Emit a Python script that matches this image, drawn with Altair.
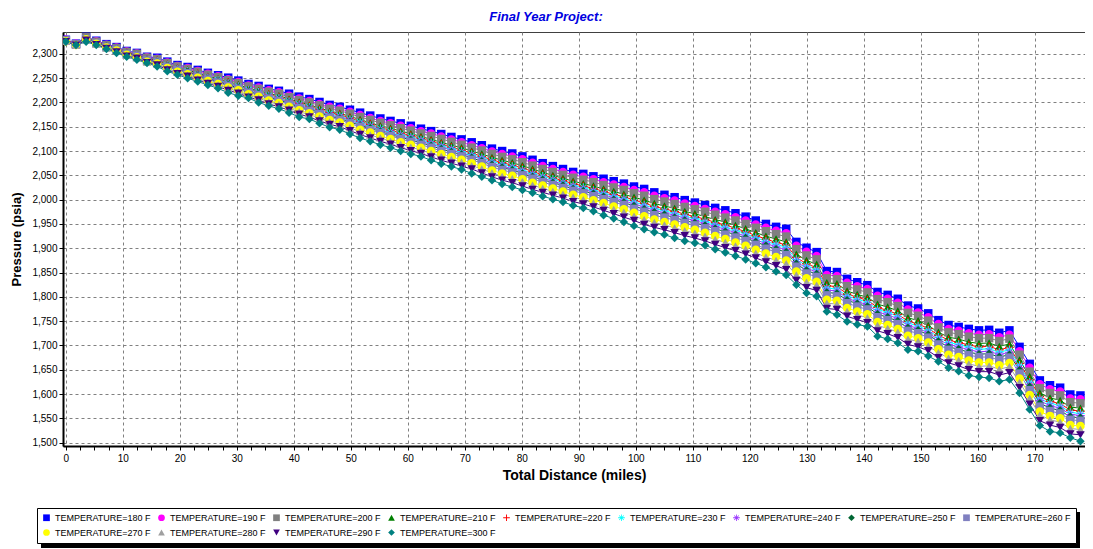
import altair as alt
import pandas as pd

distance = [0, 1.78, 3.56, 5.34, 7.12, 8.9, 10.68, 12.46, 14.24, 16.02,
            17.8, 19.58, 21.36, 23.14, 24.92, 26.7, 28.48, 30.26, 32.04, 33.82,
            35.6, 37.38, 39.16, 40.94, 42.72, 44.5, 46.28, 48.06, 49.84, 51.62,
            53.4, 55.18, 56.96, 58.74, 60.52, 62.3, 64.08, 65.86, 67.64, 69.42,
            71.2, 72.98, 74.76, 76.54, 78.32, 80.1, 81.88, 83.66, 85.44, 87.22,
            89.0, 90.78, 92.56, 94.34, 96.12, 97.9, 99.68, 101.46, 103.24, 105.02,
            106.8, 108.58, 110.36, 112.14, 113.92, 115.7, 117.48, 119.26, 121.04, 122.82,
            124.6, 126.38, 128.16, 129.94, 131.72, 133.5, 135.28, 137.06, 138.84, 140.62,
            142.4, 144.18, 145.96, 147.74, 149.52, 151.3, 153.08, 154.86, 156.64, 158.42,
            160.2, 161.98, 163.76, 165.54, 167.32, 169.1, 170.88, 172.66, 174.44, 176.22,
            178.0]

p180 = [2329, 2321, 2335, 2327, 2320, 2314, 2306, 2302, 2294, 2292,
        2284, 2277, 2273, 2267, 2261, 2256, 2251, 2245, 2238, 2234,
        2228, 2224, 2218, 2212, 2207, 2201, 2195, 2191, 2185, 2179,
        2173, 2167, 2162, 2157, 2152, 2146, 2141, 2135, 2129, 2124,
        2118, 2112, 2105, 2100, 2095, 2089, 2082, 2075, 2069, 2063,
        2057, 2053, 2048, 2043, 2038, 2033, 2027, 2022, 2015, 2010,
        2005, 1999, 1994, 1989, 1983, 1978, 1972, 1965, 1957, 1950,
        1944, 1940, 1913, 1901, 1892, 1853, 1851, 1837, 1830, 1824,
        1810, 1804, 1796, 1782, 1776, 1766, 1752, 1742, 1738, 1734,
        1731, 1732, 1726, 1731, 1697, 1662, 1628, 1618, 1613, 1599,
        1597]
p190 = [2329, 2321, 2334, 2326, 2319, 2313, 2305, 2301, 2293, 2290,
        2282, 2275, 2271, 2265, 2259, 2254, 2248, 2242, 2235, 2231,
        2225, 2221, 2214, 2208, 2203, 2197, 2191, 2187, 2181, 2174,
        2168, 2162, 2157, 2152, 2147, 2141, 2136, 2130, 2124, 2118,
        2112, 2106, 2099, 2094, 2089, 2083, 2076, 2069, 2063, 2057,
        2051, 2047, 2042, 2036, 2031, 2026, 2020, 2015, 2008, 2003,
        1998, 1992, 1987, 1981, 1975, 1970, 1964, 1957, 1949, 1942,
        1936, 1931, 1905, 1893, 1884, 1845, 1843, 1829, 1822, 1816,
        1802, 1796, 1788, 1774, 1768, 1758, 1744, 1734, 1730, 1725,
        1722, 1723, 1717, 1722, 1688, 1654, 1620, 1610, 1605, 1591,
        1589]
p200 = [2328, 2320, 2334, 2325, 2318, 2312, 2304, 2300, 2292, 2289,
        2281, 2274, 2269, 2263, 2257, 2252, 2246, 2240, 2233, 2228,
        2222, 2218, 2211, 2205, 2200, 2194, 2187, 2183, 2177, 2170,
        2164, 2158, 2153, 2147, 2142, 2136, 2131, 2125, 2119, 2113,
        2107, 2101, 2094, 2088, 2083, 2077, 2070, 2063, 2057, 2051,
        2045, 2041, 2036, 2030, 2025, 2020, 2013, 2008, 2001, 1996,
        1991, 1985, 1980, 1975, 1969, 1963, 1957, 1950, 1942, 1935,
        1929, 1924, 1898, 1885, 1877, 1838, 1836, 1822, 1815, 1809,
        1795, 1789, 1781, 1767, 1761, 1751, 1737, 1727, 1723, 1718,
        1715, 1715, 1709, 1714, 1681, 1646, 1612, 1602, 1597, 1583,
        1581]
p210 = [2328, 2320, 2333, 2324, 2317, 2311, 2303, 2298, 2290, 2287,
        2279, 2271, 2267, 2260, 2254, 2249, 2243, 2237, 2229, 2225,
        2218, 2214, 2207, 2201, 2195, 2189, 2182, 2178, 2171, 2165,
        2158, 2152, 2147, 2141, 2136, 2130, 2124, 2118, 2112, 2107,
        2100, 2094, 2087, 2081, 2076, 2070, 2063, 2056, 2050, 2044,
        2038, 2033, 2028, 2022, 2017, 2011, 2005, 1999, 1992, 1987,
        1982, 1976, 1971, 1965, 1959, 1954, 1947, 1940, 1932, 1925,
        1919, 1913, 1888, 1875, 1867, 1829, 1827, 1812, 1805, 1799,
        1785, 1779, 1771, 1757, 1751, 1741, 1727, 1717, 1713, 1707,
        1704, 1705, 1698, 1703, 1670, 1636, 1602, 1592, 1587, 1573,
        1571]
p220 = [2328, 2320, 2332, 2324, 2316, 2310, 2302, 2297, 2289, 2286,
        2277, 2270, 2265, 2259, 2252, 2247, 2241, 2234, 2227, 2222,
        2216, 2211, 2204, 2198, 2192, 2186, 2179, 2175, 2168, 2161,
        2155, 2148, 2143, 2137, 2132, 2126, 2120, 2114, 2108, 2102,
        2096, 2089, 2082, 2076, 2071, 2065, 2058, 2051, 2045, 2039,
        2033, 2028, 2023, 2017, 2011, 2006, 1999, 1993, 1986, 1981,
        1976, 1970, 1965, 1960, 1953, 1948, 1941, 1934, 1926, 1919,
        1912, 1907, 1881, 1868, 1860, 1823, 1821, 1806, 1799, 1793,
        1778, 1772, 1764, 1750, 1744, 1735, 1721, 1711, 1706, 1701,
        1697, 1698, 1691, 1696, 1663, 1629, 1595, 1585, 1580, 1567,
        1565]
p230 = [2327, 2319, 2332, 2323, 2316, 2310, 2301, 2297, 2288, 2285,
        2276, 2269, 2264, 2257, 2251, 2246, 2239, 2233, 2226, 2221,
        2214, 2209, 2202, 2196, 2190, 2183, 2177, 2172, 2165, 2159,
        2152, 2146, 2140, 2134, 2129, 2123, 2117, 2111, 2105, 2099,
        2093, 2086, 2079, 2073, 2068, 2061, 2054, 2048, 2042, 2036,
        2029, 2025, 2019, 2013, 2008, 2002, 1995, 1989, 1982, 1977,
        1972, 1966, 1961, 1955, 1949, 1943, 1937, 1930, 1922, 1914,
        1908, 1902, 1877, 1864, 1856, 1818, 1816, 1802, 1795, 1789,
        1774, 1768, 1760, 1746, 1740, 1731, 1717, 1706, 1702, 1696,
        1692, 1693, 1686, 1691, 1659, 1624, 1590, 1581, 1576, 1562,
        1560]
p240 = [2327, 2319, 2331, 2323, 2315, 2309, 2301, 2296, 2288, 2284,
        2275, 2268, 2263, 2256, 2250, 2244, 2238, 2231, 2224, 2219,
        2212, 2207, 2200, 2194, 2188, 2181, 2174, 2170, 2163, 2156,
        2150, 2143, 2137, 2131, 2126, 2120, 2114, 2108, 2102, 2096,
        2090, 2083, 2075, 2069, 2064, 2058, 2051, 2044, 2038, 2032,
        2026, 2021, 2016, 2010, 2004, 1998, 1991, 1985, 1978, 1973,
        1968, 1962, 1957, 1951, 1945, 1939, 1932, 1925, 1917, 1910,
        1903, 1897, 1872, 1859, 1851, 1814, 1812, 1797, 1790, 1784,
        1769, 1763, 1755, 1741, 1735, 1726, 1712, 1702, 1697, 1691,
        1687, 1688, 1681, 1686, 1654, 1620, 1586, 1576, 1571, 1558,
        1556]
p250 = [2327, 2319, 2331, 2322, 2315, 2308, 2300, 2295, 2287, 2283,
        2274, 2267, 2262, 2255, 2248, 2243, 2236, 2230, 2222, 2217,
        2210, 2205, 2198, 2191, 2186, 2179, 2172, 2167, 2160, 2153,
        2147, 2140, 2134, 2128, 2123, 2117, 2111, 2104, 2098, 2093,
        2086, 2079, 2072, 2066, 2061, 2054, 2047, 2041, 2035, 2029,
        2022, 2018, 2012, 2006, 2000, 1994, 1987, 1980, 1974, 1969,
        1963, 1957, 1952, 1947, 1940, 1934, 1928, 1921, 1913, 1905,
        1898, 1892, 1868, 1854, 1847, 1809, 1807, 1793, 1786, 1780,
        1764, 1758, 1750, 1736, 1731, 1722, 1708, 1697, 1692, 1686,
        1682, 1683, 1676, 1681, 1649, 1615, 1581, 1571, 1566, 1553,
        1551]
p260 = [2327, 2319, 2330, 2322, 2314, 2308, 2299, 2295, 2286, 2282,
        2273, 2266, 2260, 2253, 2247, 2241, 2234, 2228, 2220, 2215,
        2208, 2203, 2196, 2189, 2183, 2176, 2169, 2164, 2157, 2150,
        2143, 2137, 2131, 2125, 2119, 2113, 2107, 2100, 2094, 2089,
        2082, 2075, 2067, 2061, 2056, 2050, 2043, 2036, 2030, 2024,
        2018, 2013, 2007, 2001, 1995, 1989, 1981, 1975, 1968, 1963,
        1958, 1952, 1947, 1941, 1935, 1928, 1922, 1915, 1907, 1899,
        1892, 1886, 1862, 1848, 1841, 1803, 1801, 1787, 1780, 1774,
        1758, 1752, 1744, 1730, 1725, 1716, 1702, 1691, 1686, 1680,
        1676, 1676, 1670, 1675, 1642, 1608, 1574, 1565, 1560, 1547,
        1545]
p270 = [2326, 2318, 2330, 2321, 2313, 2307, 2298, 2293, 2284, 2280,
        2271, 2263, 2258, 2251, 2244, 2238, 2231, 2225, 2217, 2212,
        2204, 2199, 2191, 2184, 2178, 2171, 2164, 2159, 2152, 2144,
        2138, 2131, 2125, 2118, 2113, 2107, 2100, 2094, 2088, 2082,
        2075, 2068, 2060, 2054, 2049, 2042, 2035, 2029, 2023, 2017,
        2010, 2005, 1999, 1993, 1986, 1980, 1973, 1966, 1959, 1954,
        1949, 1943, 1938, 1932, 1925, 1919, 1912, 1905, 1897, 1889,
        1882, 1875, 1852, 1838, 1831, 1794, 1792, 1777, 1770, 1764,
        1748, 1742, 1734, 1720, 1715, 1706, 1692, 1681, 1676, 1669,
        1665, 1665, 1659, 1664, 1632, 1598, 1564, 1555, 1550, 1536,
        1534]
p280 = [2326, 2318, 2329, 2320, 2312, 2306, 2297, 2292, 2283, 2279,
        2270, 2262, 2256, 2249, 2242, 2236, 2229, 2222, 2214, 2209,
        2201, 2196, 2188, 2181, 2175, 2168, 2160, 2155, 2148, 2140,
        2133, 2127, 2120, 2114, 2108, 2102, 2095, 2089, 2083, 2077,
        2070, 2063, 2055, 2048, 2043, 2037, 2030, 2023, 2017, 2011,
        2005, 2000, 1993, 1987, 1980, 1974, 1966, 1959, 1953, 1948,
        1942, 1936, 1931, 1925, 1918, 1912, 1905, 1898, 1890, 1882,
        1875, 1868, 1845, 1830, 1824, 1787, 1785, 1770, 1763, 1757,
        1741, 1735, 1727, 1713, 1708, 1699, 1685, 1674, 1669, 1662,
        1657, 1658, 1651, 1656, 1624, 1591, 1557, 1547, 1542, 1529,
        1527]
p290 = [2325, 2318, 2328, 2319, 2311, 2304, 2295, 2291, 2282, 2277,
        2267, 2259, 2254, 2246, 2239, 2233, 2225, 2219, 2211, 2205,
        2197, 2191, 2184, 2176, 2170, 2162, 2155, 2150, 2142, 2134,
        2127, 2120, 2114, 2107, 2101, 2095, 2088, 2081, 2075, 2069,
        2063, 2055, 2047, 2040, 2035, 2028, 2021, 2015, 2009, 2003,
        1996, 1991, 1985, 1978, 1971, 1964, 1957, 1949, 1943, 1938,
        1932, 1926, 1921, 1915, 1908, 1901, 1895, 1888, 1880, 1872,
        1864, 1856, 1834, 1819, 1813, 1776, 1774, 1760, 1753, 1747,
        1730, 1724, 1716, 1702, 1697, 1689, 1675, 1664, 1658, 1650,
        1646, 1646, 1639, 1644, 1613, 1579, 1545, 1536, 1531, 1518,
        1516]
p300 = [2325, 2318, 2325, 2318, 2310, 2302, 2294, 2288, 2281, 2274,
        2264, 2257, 2250, 2243, 2236, 2229, 2220, 2214, 2209, 2200,
        2193, 2187, 2179, 2170, 2166, 2157, 2149, 2144, 2135, 2127,
        2120, 2113, 2107, 2100, 2094, 2089, 2081, 2074, 2068, 2062,
        2054, 2047, 2040, 2032, 2026, 2020, 2014, 2007, 2001, 1995,
        1988, 1983, 1976, 1968, 1961, 1954, 1946, 1939, 1933, 1928,
        1921, 1915, 1911, 1906, 1898, 1891, 1884, 1877, 1869, 1861,
        1852, 1845, 1825, 1808, 1801, 1770, 1763, 1749, 1743, 1739,
        1719, 1713, 1705, 1691, 1688, 1678, 1667, 1654, 1647, 1638,
        1635, 1633, 1626, 1630, 1602, 1568, 1535, 1523, 1520, 1510,
        1503]

temperatures = [180, 190, 200, 210, 220, 230, 240, 250, 260, 270, 280, 290, 300]
pressures = [p180, p190, p200, p210, p220, p230, p240, p250, p260, p270, p280, p290, p300]
series_labels = ["TEMPERATURE=%d F" % t for t in temperatures]
series_colors = ["#0000FF", "#FF00FF", "#808080", "#008000", "#FF0000", "#00FFFF",
                 "#9933FF", "#006633", "#8080C0", "#FFFF00", "#A0A0A0", "#400080", "#008080"]

PLUS = "M-1,-0.14H1V0.14H-1Z M-0.14,-1H0.14V1H-0.14Z"
STAR = ("M-1,-0.12H1V0.12H-1Z M-0.12,-1H0.12V1H-0.12Z "
        "M-0.63,-0.77L0.77,0.63L0.63,0.77L-0.77,-0.63Z "
        "M0.77,-0.63L-0.63,0.77L-0.77,0.63L0.63,-0.77Z")
series_shapes = ["square", "circle", "square", "triangle-up", PLUS, STAR,
                 STAR, "diamond", "square", "circle", "triangle-up", "triangle-down", "diamond"]

rows = []
for k, (lab, vals) in enumerate(zip(series_labels, pressures)):
    for d, p in zip(distance, vals):
        rows.append({"series": lab, "order": k, "distance": d, "pressure": p})
df = pd.DataFrame(rows)

x_ticks = [i * 2.5 for i in range(72)]
y_ticks = list(range(1500, 2301, 50))

color_scale = alt.Scale(domain=series_labels, range=series_colors)
shape_scale = alt.Scale(domain=series_labels, range=series_shapes)

x_enc = alt.X("distance:Q", scale=alt.Scale(domain=[-0.5, 178.8], nice=False, zero=False),
              axis=alt.Axis(title="Total Distance (miles)", values=x_ticks,
                            labelExpr="datum.value % 10 === 0 ? format(datum.value, 'd') : ''",
                            gridOpacity=alt.condition("datum.value % 10 === 0", alt.value(1), alt.value(0))))
y_enc = alt.Y("pressure:Q", scale=alt.Scale(domain=[1493, 2345], nice=False, zero=False),
              axis=alt.Axis(title="Pressure (psia)", values=y_ticks,
                            labelExpr="format(datum.value, ',.0f')"))

# lines use a separate scale (different domain) so their disabled legend is not merged
lines = alt.Chart(df).mark_line(strokeWidth=1, clip=True).encode(
    x=x_enc, y=y_enc,
    stroke=alt.Stroke("order:N", scale=alt.Scale(domain=list(range(13)), range=series_colors), legend=None),
    detail="series:N",
)

legend = alt.Legend(title=None, orient="none", legendX=-26, legendY=476,
                    direction="horizontal", columns=9, zindex=2,
                    fillColor="white", strokeColor="black",
                    padding=5, symbolSize=45, labelFontSize=9,
                    labelFont="Liberation Sans Narrow, Liberation Sans, Arial",
                    labelColor="black", labelOffset=4, labelLimit=200,
                    columnPadding=6, rowPadding=5, symbolStrokeWidth=0)

points = alt.Chart(df).mark_point(filled=True, opacity=1, size=72, clip=True).encode(
    x=x_enc, y=y_enc,
    color=alt.Color("series:N", scale=color_scale, sort=series_labels, legend=legend),
    shape=alt.Shape("series:N", scale=shape_scale, sort=series_labels, legend=legend),
)

shadow = alt.Chart(pd.DataFrame({"a": [0]})).mark_rect(color="black").encode(
    x=alt.value(-22), x2=alt.value(1017), y=alt.value(480), y2=alt.value(516)
)

chart = alt.layer(shadow, lines, points).properties(
    width=1022, height=414,
    title=alt.TitleParams("Final Year Project:", anchor="middle", frame="group", dx=-28,
                          font="Liberation Sans Narrow, Liberation Sans, Arial", fontSize=13,
                          fontStyle="italic", fontWeight="bold", color="#0000E0", offset=8),
    padding={"left": 55, "top": 24, "right": 0, "bottom": 103},
    autosize=alt.AutoSizeParams(type="none"),
    background="white",
).configure_view(stroke="#404040", strokeWidth=1).configure_axis(
    labelFont="Liberation Sans Narrow, Liberation Sans, Arial", labelFontSize=10, labelColor="black",
    titleFont="Liberation Sans", titleFontWeight="bold", titleColor="black",
    gridColor="#808080", gridDash=[3, 3], gridWidth=1,
    domainColor="black", domainWidth=2, tickColor="black", tickSize=4,
).configure_axisX(titleFontSize=14, titlePadding=5, labelPadding=3
).configure_axisY(titleFontSize=13, titlePadding=8, labelPadding=2)

chart.save("out.html", embed_options={"renderer": "svg", "actions": False})
